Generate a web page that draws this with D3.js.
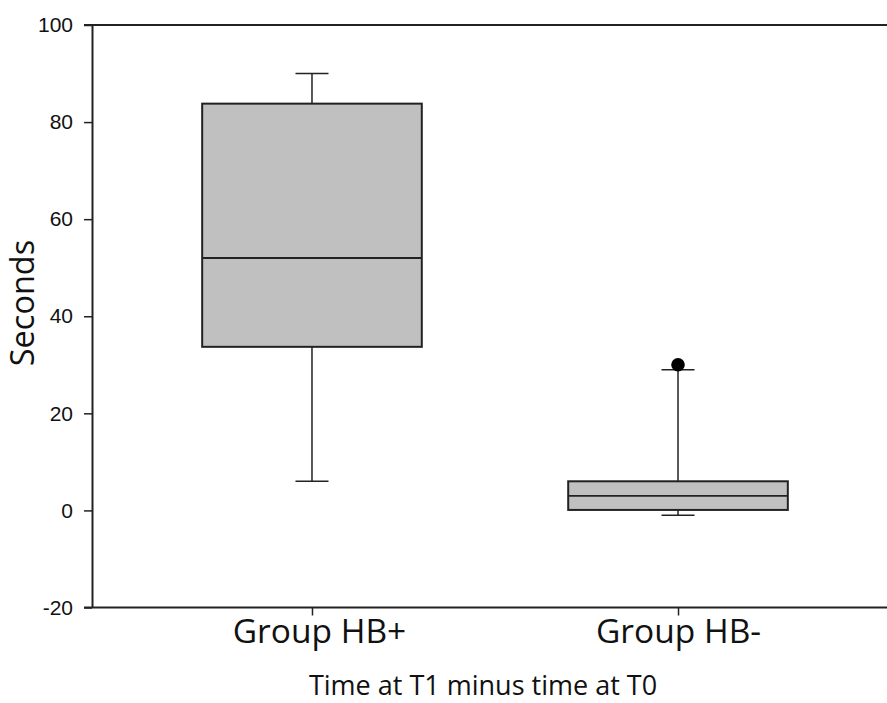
<!DOCTYPE html>
<html>
<head>
<meta charset="utf-8">
<script src="https://cdn.jsdelivr.net/npm/d3@7"></script>
<style>
  html, body { margin: 0; padding: 0; background: #fff; }
  svg { display: block; }
</style>
</head>
<body>
<svg id="chart" width="887" height="703"></svg>
<script>
// ---- data ----
const categories = ["Group HB+", "Group HB-"];
const q1 =          [33.7, 0.1];
const medians =     [52, 3];
const q3 =          [83.8, 6];
const whiskerLow =  [6, -1];
const whiskerHigh = [90, 29];
const outliers =    [[], [30]];
const yTicks = [-20, 0, 20, 40, 60, 80, 100];
const yLabel = "Seconds";
const xLabel = "Time at T1 minus time at T0";

(function () {
// ---- layout ----
const mLeft = 92, mRight = 898, mTop = 25, mBottom = 607.5;
const labelShift = [7, 0];

const svg = d3.select("#chart");

const y = d3.scaleLinear().domain([-20, 100]).range([mBottom, mTop]);
const x = d3.scalePoint().domain(categories).range([mLeft, mRight]).padding(0.601);
const step = x.step();
const boxW = step * 0.6;
const capW = 33;

// top frame line
svg.append("line").attr("x1", mLeft - 8).attr("x2", mRight).attr("y1", y(100)).attr("y2", y(100))
  .attr("stroke", "#222").attr("stroke-width", 2);

// y axis
const yAxis = svg.append("g").attr("transform", `translate(${mLeft},0)`)
  .call(d3.axisLeft(y).tickValues(yTicks).tickFormat(d => String(d))
    .tickSize(8).tickPadding(11).tickSizeOuter(0));
yAxis.select(".domain").attr("stroke", "#222").attr("stroke-width", 2);
yAxis.selectAll(".tick line").attr("stroke", "#222").attr("stroke-width", 1.5);
yAxis.selectAll(".tick text").attr("font-family", "'Liberation Sans', Arial, sans-serif")
  .attr("font-size", 21).attr("fill", "#111");

// x axis
const xAxis = svg.append("g").attr("transform", `translate(0,${mBottom})`)
  .call(d3.axisBottom(x).tickSize(8).tickSizeOuter(0));
xAxis.select(".domain").attr("stroke", "#222").attr("stroke-width", 2)
  .attr("d", `M${mLeft - 8},0H${mRight}`);
xAxis.selectAll(".tick line").attr("stroke", "#222").attr("stroke-width", 1.5);
xAxis.selectAll(".tick text").attr("font-family", "'Open Sans', sans-serif")
  .attr("font-size", 33.5).attr("fill", "#111")
  .attr("y", 35).attr("dy", 0)
  .attr("dx", (d, i) => labelShift[i]);

// boxes
const data = categories.map((c, i) => ({
  c, q1: q1[i], med: medians[i], q3: q3[i], lo: whiskerLow[i], hi: whiskerHigh[i], out: outliers[i]
}));

const g = svg.append("g");
data.forEach(d => {
  const cx = x(d.c);
  const ln = (x1, x2, y1, y2, w) => g.append("line").attr("x1", x1).attr("x2", x2)
    .attr("y1", y1).attr("y2", y2).attr("stroke", "#222").attr("stroke-width", w);
  // whiskers
  ln(cx, cx, y(d.q3), y(d.hi), 1.5);
  ln(cx, cx, y(d.q1), y(d.lo), 1.5);
  ln(cx - capW / 2, cx + capW / 2, y(d.hi), y(d.hi), 1.5);
  ln(cx - capW / 2, cx + capW / 2, y(d.lo), y(d.lo), 1.5);
  // box
  g.append("rect").attr("x", cx - boxW / 2).attr("width", boxW)
    .attr("y", y(d.q3)).attr("height", y(d.q1) - y(d.q3))
    .attr("fill", "#c0c0c0").attr("stroke", "#222").attr("stroke-width", 2);
  // median
  ln(cx - boxW / 2, cx + boxW / 2, y(d.med), y(d.med), 1.8);
  // outliers
  d.out.forEach(v => {
    g.append("circle").attr("cx", cx).attr("cy", y(v)).attr("r", 6.8).attr("fill", "#000");
  });
});

// axis titles
svg.append("text")
  .attr("transform", `translate(34,303) rotate(-90)`)
  .attr("text-anchor", "middle")
  .attr("font-family", "'Open Sans', sans-serif").attr("font-size", 32.5).attr("fill", "#111")
  .text(yLabel);

svg.append("text")
  .attr("x", 483).attr("y", 695)
  .attr("text-anchor", "middle")
  .attr("font-family", "'Open Sans', sans-serif").attr("font-size", 27).attr("fill", "#111")
  .text(xLabel);
})();
</script>
</body>
</html>
